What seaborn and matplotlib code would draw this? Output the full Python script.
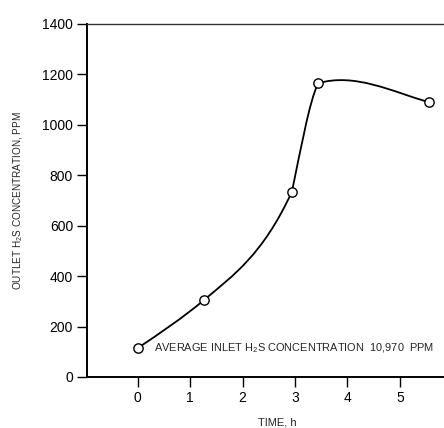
import numpy as np
import pandas as pd
import seaborn as sns
import matplotlib
matplotlib.use("Agg")
import matplotlib.pyplot as plt
from matplotlib.path import Path
from matplotlib.patches import PathPatch

# measured points (time in h, outlet H2S in ppm)
time_h = [0.0, 1.26, 2.94, 3.44, 5.55]
outlet_ppm = [115, 305, 735, 1165, 1090]

# slopes (ppm per h) used to draw the hand-smoothed curve through the points
slope_in = [140, 175, 450, 420, -60]
slope_out = [140, 175, 1000, 60, -60]

x_ticks = [0, 1, 2, 3, 4, 5]
y_ticks = [0, 200, 400, 600, 800, 1000, 1200, 1400]
note = "AVERAGE INLET H$_2$S CONCENTRATION  10,970  PPM"

df = pd.DataFrame({"time": time_h, "ppm": outlet_ppm})

sns.set_style("ticks")
plt.rcParams["font.family"] = ["Liberation Sans", "DejaVu Sans"]
plt.rcParams["mathtext.fontset"] = "custom"
plt.rcParams["mathtext.rm"] = "Liberation Sans"
plt.rcParams["mathtext.it"] = "Liberation Sans"

fig = plt.figure(figsize=(4.44, 4.28), dpi=100)
W, H = 444, 428
ax = fig.add_axes([87 / W, (H - 377) / H, (467 - 87) / W, (377 - 24) / H])

# smooth curve as cubic bezier segments (hermite tangents)
verts = [(time_h[0], outlet_ppm[0])]
codes = [Path.MOVETO]
for i in range(len(time_h) - 1):
    h = time_h[i + 1] - time_h[i]
    x0, y0 = time_h[i], outlet_ppm[i]
    x1, y1 = time_h[i + 1], outlet_ppm[i + 1]
    verts += [(x0 + h / 3, y0 + h * slope_out[i] / 3),
              (x1 - h / 3, y1 - h * slope_in[i + 1] / 3),
              (x1, y1)]
    codes += [Path.CURVE4] * 3
ax.add_patch(PathPatch(Path(verts, codes), fill=False, edgecolor="black",
                       linewidth=1.3, zorder=2))

sns.scatterplot(data=df, x="time", y="ppm", ax=ax, s=45, facecolor="white",
                edgecolor="black", linewidth=1.0, zorder=3, legend=False)

ax.set_xlim(-0.97, 6.28)
ax.set_ylim(0, 1400)
ax.set_xticks(x_ticks)
ax.set_yticks(y_ticks)
ax.tick_params(axis="both", direction="out", length=7, width=1, labelsize=10,
               pad=3, color="black", labelcolor="black")
for side in ["left", "bottom"]:
    ax.spines[side].set_linewidth(1.4)
    ax.spines[side].set_color("black")
ax.spines["top"].set_linewidth(1.0)
ax.spines["top"].set_color("#333333")
ax.spines["right"].set_visible(False)

ax.set_xlabel("TIME, h", fontsize=8)
ax.set_ylabel("OUTLET H$_2$S CONCENTRATION, PPM", fontsize=7.2)
ax.xaxis.set_label_coords((277 - 87) / (467 - 87), -0.115)
ax.yaxis.set_label_coords(-(87 - 25) / (467 - 87), 0.5)

ax.text(0.3, 115, note, fontsize=7.9, va="center", ha="left")

fig.savefig("out.png", dpi=100)
